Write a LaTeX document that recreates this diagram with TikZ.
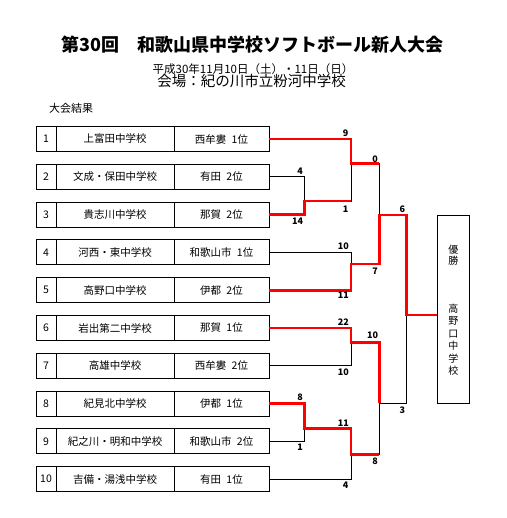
\documentclass[tikz,border=0pt]{standalone}
\usepackage{fontspec}
\setmainfont{Noto Sans CJK JP}
\definecolor{winred}{RGB}{255,0,0}
\begin{document}
\begin{tikzpicture}[
			x=1pt, y=-1pt,
			line cap=butt, line join=miter,
			cell/.style={draw=black, line width=0.9pt, minimum height=25pt, inner sep=0pt, font=\fontsize{10.5}{12}\selectfont},
			numcell/.style={cell, minimum width=20pt},
			schcell/.style={cell, minimum width=118pt},
			areacell/.style={cell, minimum width=95pt},
			lose/.style={draw=black, line width=0.8pt},
			win/.style={draw=winred, line width=2.8pt},
			score/.style={inner sep=0pt, font=\fontsize{9}{10}\selectfont\bfseries}
			]
			
			\useasboundingbox (0,0) rectangle (506,518);
			
			\node[font=\fontsize{18}{20}\selectfont\bfseries] (title) at (252.5,45) {第30回　和歌山県中学校ソフトボール新人大会};
			\node[font=\fontsize{11.5}{13}\selectfont] (date) at (253,69) {平成30年11月10日（土）・11日（日）};
			\node[font=\fontsize{14.5}{16}\selectfont] (venue) at (251.5,81) {会場：紀の川市立粉河中学校};
			\node[font=\fontsize{11}{13}\selectfont] (result) at (71,108.3) {大会結果};
			
			\node[numcell] (n1) at (46,139) {1};
			\node[schcell] (s1) at (115,139) {上富田中学校};
			\node[areacell] (a1) at (221.5,139) {西牟婁\enspace 1位};
			
			\node[numcell] (n2) at (46,176.8) {2};
			\node[schcell] (s2) at (115,176.8) {文成・保田中学校};
			\node[areacell] (a2) at (221.5,176.8) {有田\enspace 2位};
			
			\node[numcell] (n3) at (46,214.6) {3};
			\node[schcell] (s3) at (115,214.6) {貴志川中学校};
			\node[areacell] (a3) at (221.5,214.6) {那賀\enspace 2位};
			
			\node[numcell] (n4) at (46,252.4) {4};
			\node[schcell] (s4) at (115,252.4) {河西・東中学校};
			\node[areacell] (a4) at (221.5,252.4) {和歌山市\enspace 1位};
			
			\node[numcell] (n5) at (46,290.2) {5};
			\node[schcell] (s5) at (115,290.2) {高野口中学校};
			\node[areacell] (a5) at (221.5,290.2) {伊都\enspace 2位};
			
			\node[numcell] (n6) at (46,328) {6};
			\node[schcell] (s6) at (115,328) {岩出第二中学校};
			\node[areacell] (a6) at (221.5,328) {那賀\enspace 1位};
			
			\node[numcell] (n7) at (46,365.8) {7};
			\node[schcell] (s7) at (115,365.8) {高雄中学校};
			\node[areacell] (a7) at (221.5,365.8) {西牟婁\enspace 2位};
			
			\node[numcell] (n8) at (46,403.6) {8};
			\node[schcell] (s8) at (115,403.6) {紀見北中学校};
			\node[areacell] (a8) at (221.5,403.6) {伊都\enspace 1位};
			
			\node[numcell] (n9) at (46,441.4) {9};
			\node[schcell] (s9) at (115,441.4) {紀之川・明和中学校};
			\node[areacell] (a9) at (221.5,441.4) {和歌山市\enspace 2位};
			
			\node[numcell] (n10) at (46,479.2) {10};
			\node[schcell] (s10) at (115,479.2) {吉備・湯浅中学校};
			\node[areacell] (a10) at (221.5,479.2) {有田\enspace 1位};
			
			\node[draw=black, line width=0.9pt, minimum width=32pt, minimum height=188pt, inner sep=0pt] (champ) at (453.3,309.2) {};
			\node[font=\fontsize{10}{11}\selectfont, align=center, inner sep=0pt] (champlbl) at (453.3,255.5) {優\\勝};
			\node[font=\fontsize{10}{12.5}\selectfont, align=center, inner sep=0pt] (champname) at (453.3,339.5) {高\\野\\口\\中\\学\\校};
			
			\coordinate (j23) at (304.3,201);
			\coordinate (j123) at (351,163.3);
			\coordinate (j45) at (351,264);
			\coordinate (jA) at (379.3,215);
			\coordinate (j67) at (351,342.3);
			\coordinate (j89) at (304.3,428.3);
			\coordinate (j8910) at (351,454.3);
			\coordinate (jB) at (379.3,403.3);
			\coordinate (jF) at (406.7,315);
			
			\draw[lose] (a2.east) -| (j23) -| (j123) -| (jA);
			\draw[lose] (a4.east) -| (j45);
			\draw[lose] (a7.east) -| (j67);
			\draw[lose] (a9.east) -| (j89);
			\draw[lose] (a10.east) -| (j8910) -| (jB) -| (jF);
			
			\draw[win] (a1.east) -| (j123) -- (j123 -| jA);
			\draw[win] (a3.east) -| (j23) -- (j23 -| j123);
			\draw[win] (a5.east) -| (j45) -| (jA) -| (jF) -- (jF -| champ.west);
			\draw[win] (a6.east) -| (j67) -| (jB);
			\draw[win] (a8.east) -| (j89) -| (j8910) -- (j8910 -| jB);
			
			\node[score] (sc1) at (345.7,133.3) {9};
			\node[score] (sc2) at (300,171) {4};
			\node[score] (sc3) at (297.7,221.7) {14};
			\node[score] (sc4) at (345.7,209.3) {1};
			\node[score] (sc5) at (375,159) {0};
			\node[score] (sc6) at (375,271.7) {7};
			\node[score] (sc7) at (402.3,209.3) {6};
			\node[score] (sc8) at (343.3,246.7) {10};
			\node[score] (sc9) at (343.3,295.7) {11};
			\node[score] (sc10) at (343.3,322.3) {22};
			\node[score] (sc11) at (372.7,335.7) {10};
			\node[score] (sc12) at (343.3,372.7) {10};
			\node[score] (sc13) at (402.3,410) {3};
			\node[score] (sc14) at (300,397.7) {8};
			\node[score] (sc15) at (343.3,423.3) {11};
			\node[score] (sc16) at (300,447.7) {1};
			\node[score] (sc17) at (375,461) {8};
			\node[score] (sc18) at (345.7,485) {4};
		\end{tikzpicture}
\end{document}
